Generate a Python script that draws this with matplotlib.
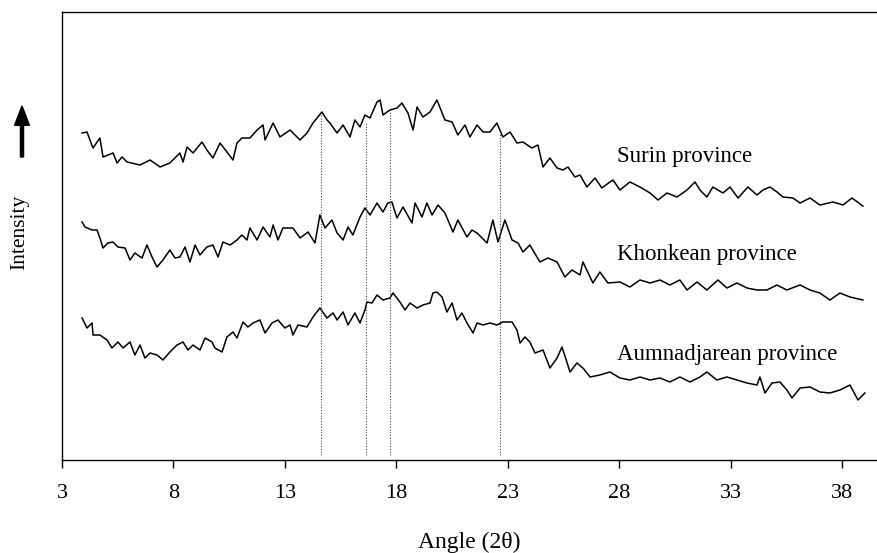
import matplotlib
matplotlib.use("Agg")
import matplotlib.pyplot as plt

plt.rcParams['font.family'] = ['Liberation Serif', 'DejaVu Serif']

# ---- data (angle 2theta, relative intensity a.u.) ----
surin_x = [3.90, 4.12, 4.39, 4.70, 4.84, 5.29, 5.47, 5.69, 5.92, 6.50, 6.95, 7.40, 7.84, 8.29, 8.43, 8.61,
           8.88, 9.28, 9.50, 9.77, 10.09, 10.40, 10.67, 10.85, 11.07, 11.43, 11.75, 12.02, 12.11, 12.47,
           12.78, 13.23, 13.68, 13.99, 14.26, 14.66, 14.89, 15.02, 15.34, 15.61, 15.92, 16.14, 16.37,
           16.59, 16.82, 17.13, 17.27, 17.40, 17.71, 18.03, 18.25, 18.52, 18.75, 18.93, 19.19, 19.51,
           19.82, 20.18, 20.50, 20.76, 21.08, 21.30, 21.62, 21.89, 22.20, 22.51, 22.78, 23.10, 23.41,
           23.68, 24.08, 24.35, 24.58, 24.89, 25.21, 25.47, 25.70, 26.01, 26.24, 26.55, 26.91, 27.22,
           27.58, 27.72, 28.03, 28.48, 28.93, 29.38, 29.74, 30.14, 30.59, 31.04, 31.40, 31.62, 31.93,
           32.20, 32.65, 32.97, 33.33, 33.77, 34.18, 34.45, 34.76, 35.08, 35.34, 35.79, 36.11, 36.56,
           37.00, 37.59, 38.04, 38.44, 38.93]
surin_y = [327, 328, 312, 322, 303, 307, 297, 303, 298, 295, 300, 293, 297, 307, 298, 313,
           307, 318, 310, 302, 317, 308, 300, 317, 322, 322, 330, 335, 320, 337,
           323, 330, 320, 327, 337, 348, 340, 337, 327, 335, 323, 340, 333,
           345, 342, 358, 360, 345, 350, 352, 357, 347, 330, 353, 343, 348,
           360, 340, 338, 325, 335, 323, 335, 328, 328, 337, 323, 328, 317,
           318, 312, 315, 293, 302, 292, 290, 293, 283, 285, 273, 282, 272,
           278, 280, 270, 278, 273, 267, 260, 267, 263, 270, 278, 270, 263,
           273, 267, 273, 262, 273, 265, 270, 273, 268, 263, 262, 257, 262,
           255, 258, 255, 262, 254]

khon_x = [3.90, 4.03, 4.35, 4.57, 4.70, 4.84, 5.06, 5.29, 5.51, 5.83, 6.05, 6.27, 6.59, 6.81, 7.04, 7.26,
          7.53, 7.84, 8.07, 8.29, 8.52, 8.74, 8.97, 9.19, 9.50, 9.77, 10.00, 10.22, 10.54, 10.85, 11.07,
          11.30, 11.43, 11.75, 12.02, 12.33, 12.47, 12.69, 12.91, 13.36, 13.68, 14.04, 14.35, 14.57,
          14.80, 15.11, 15.34, 15.61, 15.83, 16.05, 16.37, 16.59, 16.82, 17.13, 17.40, 17.62, 17.80,
          18.03, 18.30, 18.70, 18.84, 19.15, 19.37, 19.60, 19.87, 20.18, 20.54, 20.76, 21.17, 21.39,
          21.62, 22.07, 22.33, 22.56, 22.87, 23.19, 23.46, 23.68, 23.99, 24.44, 24.80, 25.21, 25.56,
          25.88, 26.24, 26.37, 26.82, 27.13, 27.49, 28.03, 28.48, 28.93, 29.38, 29.83, 30.27, 30.72,
          31.04, 31.49, 31.93, 32.43, 32.83, 33.28, 33.73, 34.18, 34.63, 35.07, 35.52, 36.11, 36.56,
          37.00, 37.45, 37.90, 38.35, 38.93]
khon_y = [238, 233, 230, 230, 222, 212, 217, 218, 213, 212, 200, 207, 202, 215, 203, 193,
          200, 210, 202, 203, 213, 198, 215, 205, 213, 215, 203, 218, 215, 220, 225,
          220, 232, 220, 233, 223, 235, 220, 232, 232, 222, 228, 217, 245,
          232, 240, 227, 220, 233, 225, 243, 252, 245, 257, 248, 257, 258,
          242, 253, 237, 257, 243, 257, 245, 255, 247, 228, 240, 223, 230,
          227, 217, 240, 218, 240, 220, 217, 208, 215, 198, 202, 198, 183,
          190, 185, 198, 177, 188, 177, 178, 173, 180, 177, 180, 175, 180,
          170, 178, 170, 180, 172, 177, 172, 170, 170, 175, 170, 175, 170,
          167, 160, 167, 163, 160]

aum_x = [3.90, 4.12, 4.35, 4.39, 4.70, 5.02, 5.24, 5.51, 5.74, 6.05, 6.27, 6.50, 6.72, 6.95, 7.26, 7.53,
         7.84, 8.16, 8.43, 8.65, 8.88, 9.19, 9.42, 9.73, 9.86, 10.18, 10.40, 10.67, 10.85, 11.12, 11.34,
         11.57, 11.88, 12.11, 12.42, 12.69, 13.00, 13.23, 13.36, 13.59, 13.99, 14.26, 14.57, 14.89,
         15.16, 15.34, 15.61, 15.83, 16.14, 16.37, 16.59, 16.68, 16.91, 17.13, 17.40, 17.71, 17.85,
         18.16, 18.39, 18.61, 18.93, 19.19, 19.51, 19.64, 19.82, 20.05, 20.27, 20.50, 20.72, 20.94,
         21.17, 21.44, 21.62, 21.89, 22.20, 22.51, 22.78, 23.19, 23.41, 23.55, 23.77, 23.99, 24.22,
         24.58, 24.89, 25.21, 25.43, 25.65, 25.79, 26.10, 26.37, 26.69, 27.13, 27.58, 28.03, 28.48,
         28.93, 29.38, 29.83, 30.27, 30.72, 31.17, 31.62, 31.93, 32.38, 32.83, 33.28, 33.73, 34.18,
         34.31, 34.54, 34.85, 35.21, 35.52, 35.75, 36.11, 36.56, 37.00, 37.45, 37.90, 38.35, 38.71,
         39.02]
aum_y = [142, 132, 137, 125, 125, 120, 112, 118, 112, 118, 105, 115, 102, 107, 105, 100,
         108, 115, 118, 110, 115, 110, 122, 118, 112, 108, 123, 128, 122, 138, 133,
         137, 140, 127, 137, 140, 132, 135, 125, 135, 133, 143, 152, 142,
         147, 140, 148, 135, 147, 137, 150, 158, 157, 165, 160, 162, 167,
         158, 150, 157, 152, 155, 157, 167, 168, 163, 148, 157, 140, 147,
         137, 127, 137, 135, 137, 135, 138, 138, 130, 117, 123, 118, 107,
         110, 92, 102, 113, 98, 88, 97, 92, 83, 85, 88, 82, 80,
         83, 80, 82, 78, 83, 78, 83, 88, 80, 83, 80, 77, 75,
         83, 67, 77, 78, 70, 62, 72, 73, 68, 67, 70, 75, 60,
         67]

peak_x = [14.62, 16.64, 17.71, 22.65]
peak_top = [345, 338, 348, 332]
peak_bottom = 5

series_names = ["Surin province", "Khonkean province", "Aumnadjarean province"]
label_pos = [(27.9, 298), (27.9, 200), (27.9, 100)]

xticks = [3, 8, 13, 18, 23, 28, 33, 38]

# ---- figure ----
fig = plt.figure(figsize=(8.77, 5.53), dpi=100)
ax = fig.add_axes([62 / 877, 1 - 460 / 553, 1 - 62 / 877, (460 - 12) / 553])

for xs, ys in [(surin_x, surin_y), (khon_x, khon_y), (aum_x, aum_y)]:
    ax.plot(xs, ys, color='black', lw=1.1)

ax.vlines(peak_x, peak_bottom, peak_top, colors='#444444', linestyles=(0, (1, 1.5)), lw=0.8)

for name, (tx, ty) in zip(series_names, label_pos):
    ax.text(tx, ty, name, fontsize=16.5, ha='left', va='baseline')

ax.set_xlim(3, 3 + (877 - 62) / 22.29)
ax.set_ylim(0, 448)
ax.set_xticks(xticks)
ax.set_xticklabels([str(t) for t in xticks], fontsize=16)
ax.set_yticks([])
ax.tick_params(axis='x', direction='out', length=6, width=1, pad=11)
ax.spines['right'].set_visible(False)
for s in ['left', 'top', 'bottom']:
    ax.spines[s].set_linewidth(1.0)

ax.set_xlabel("Angle (2θ)", fontsize=17, labelpad=21)

fig.text(20 / 877, 1 - 232 / 553, "Intensity", rotation=90, fontsize=15.5,
         ha='center', va='center')
fig.patches.append(matplotlib.patches.FancyArrow(
    22 / 877, 1 - 157 / 553, 0, (157 - 106) / 553,
    width=0.0035, head_width=0.017, head_length=0.035, length_includes_head=True,
    color='black', transform=fig.transFigure, figure=fig))

fig.savefig("out.png", dpi=100)
